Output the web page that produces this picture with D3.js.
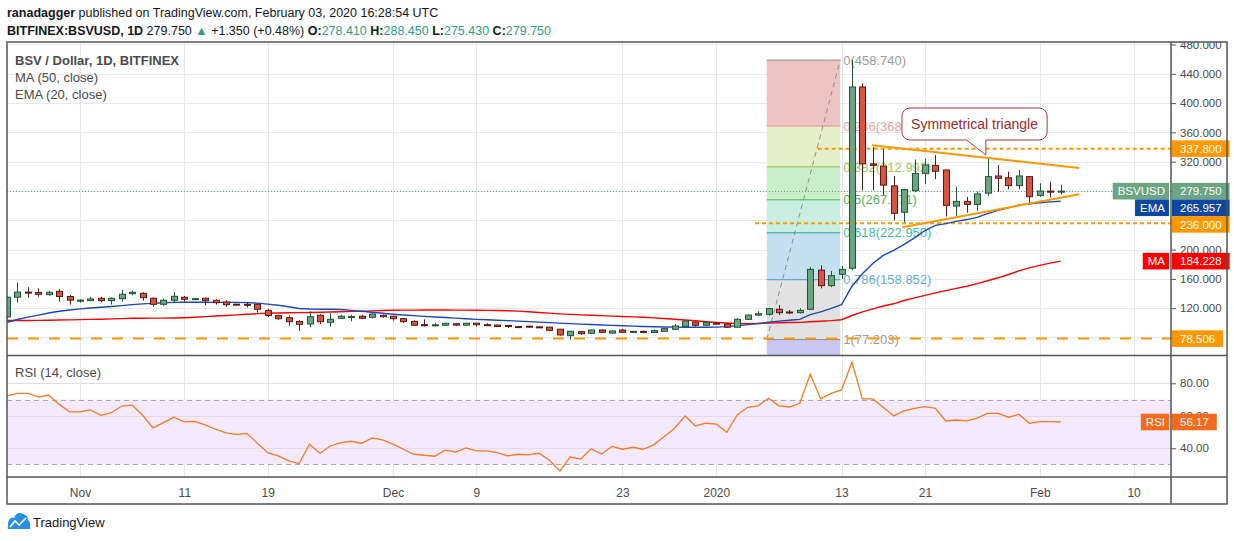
<!DOCTYPE html>
<html>
<head>
<meta charset="utf-8">
<title>BSV / Dollar, 1D, BITFINEX</title>
<script src="https://d3js.org/d3.v7.min.js"></script>
<style>
  body { margin: 0; background: #fff; }
  svg { font-family: "Liberation Sans", Arial, sans-serif; display: block; }
</style>
</head>
<body>
<svg id="chart" width="1234" height="541"></svg>
<script>
// ---- data (daily candles, first one is 2019-10-25) ----
const startDay = "2019-10-25";

const opens = [108, 135, 142, 141.5, 138.5, 143, 136,
  129.5, 130.3, 133.5, 130.3, 133, 139.8, 140.3, 133.5, 125.3, 130.8,
  134.9, 132.2, 133.5, 130.8, 128.5, 125.5, 125.3, 125.3, 117, 109.8,
  107, 102, 98.4, 110.3, 100.7, 106.2, 107.8, 109, 107.6, 110.3,
  109, 105.7, 102, 97.5, 97, 96.7, 98.8, 96.8, 99.5, 97.5,
  97, 96.5, 94.9, 95.5, 94.5, 94, 91.3, 82.5, 88, 85.7,
  90.2, 86, 90.2, 87.5, 88.3, 86.8, 88.5, 91.2, 95.3, 101.1,
  96.7, 99.5, 98.4, 94, 104.8, 110.6, 111.6, 118.5, 114.8, 113.9,
  118.5, 172, 150.8, 166.3, 174.5, 422, 317, 314, 287, 251,
  280.5, 304, 315, 308.7, 259.4, 265.8, 261.7, 277, 300.5, 298,
  287.3, 299.6, 274, 279.9, 278.41];
const highs = [137, 155, 148.5, 147, 144, 146, 138,
  132, 135.6, 135.6, 134.7, 145, 144, 141.7, 135, 132.6, 141.7,
  136.7, 134, 134.5, 132, 131, 126, 128, 126.7, 119, 111.2,
  110, 103.5, 115.7, 112, 113, 111, 111, 111, 114, 111.2,
  109.3, 106, 103.5, 104.8, 99.5, 100, 100, 100, 100, 99.5,
  97.5, 97, 95.5, 96, 95, 94.4, 91.6, 88.8, 89, 91,
  91, 90, 91.5, 88.8, 89.5, 91, 92.8, 98.4, 103, 101.8,
  101, 101.3, 99, 106.6, 111.2, 115.7, 120, 124.4, 117.5, 119.8,
  176, 178.6, 170.8, 177.7, 458.74, 427, 340, 337, 300.5, 283,
  323, 324.6, 329, 309, 286, 272, 279, 324.6, 315.5, 306.4,
  308.7, 300, 290.5, 292.7, 288.45];
const lows = [106, 127.5, 134.5, 135.6, 137, 129, 125,
  127.5, 130, 128, 125, 129, 137.8, 130.3, 122, 123.4, 128.4,
  129, 131.5, 124, 125, 122, 123, 121, 114, 108, 104,
  96, 89, 94, 98.4, 94.8, 105, 102, 105, 106, 107,
  103, 99.8, 96, 94.8, 95, 96, 96, 96.5, 95, 96,
  94.5, 93, 93, 93, 93.5, 88.6, 82.6, 77.203, 83.4, 85,
  86, 85.5, 86, 87, 86, 86, 88, 90.5, 95, 95,
  96, 97.5, 93.3, 93.5, 104, 109.5, 109.5, 110.6, 111.7, 113,
  117.5, 147, 148.6, 160, 172, 281, 281, 274.5, 240, 237,
  278.6, 289.5, 296, 245, 246, 250.4, 253, 273, 279, 282.3,
  282.3, 261, 272, 271.3, 275.43];
const closes = [135, 142, 141, 139, 141.7, 136, 131,
  131, 132.6, 130.3, 133.5, 139, 141.7, 134.3, 125.3, 130.8, 136.2,
  132.2, 133, 130.3, 127.5, 124.8, 125, 125, 118.5, 110, 105.7,
  101.6, 98, 108.4, 101.6, 104.8, 109, 108.6, 106.2, 112, 108.4,
  105.7, 101.6, 96.7, 97, 97.3, 99.4, 96.9, 99.4, 97.5, 97,
  95, 95, 94.2, 94.8, 94.2, 89.8, 83.5, 88.5, 85.3, 90.2,
  87.1, 88.9, 87.1, 88.3, 88, 89.4, 92.1, 95.7, 102.5, 96.7,
  100.3, 99.2, 94, 104.8, 110.6, 112.4, 119.5, 113.9, 114.2, 117,
  173, 150.8, 164.4, 173, 422, 317, 315, 288, 249.5, 282,
  304, 315.5, 307, 260.4, 265.8, 261.7, 276, 299.6, 297.3, 287.3,
  300.5, 272.2, 280, 278.4, 279.75];
const ma50 = [103.1, 103.2, 103.3, 103.4, 103.5, 103.8, 104.1,
  104.4, 104.7, 105, 105.4, 105.8, 106.2, 106.3, 106.4, 106.5, 106.6,
  107, 107.7, 108.5, 109.3, 110, 110.9, 111.8, 112.6, 113.1, 113.4,
  113.7, 114, 114.2, 114.5, 114.8, 115.2, 115.6, 116, 116.4, 116.8,
  117.1, 117.3, 117.4, 117.5, 117.5, 117.5, 117.4, 117.3, 117.1, 117,
  116.8, 116.6, 116, 115.2, 114.2, 113.2, 112.2, 111.5, 110.9, 110.4,
  109.8, 109.2, 108.6, 108.1, 107.6, 106.8, 105.9, 104.9, 103.9, 102.8,
  101.5, 100.5, 99.8, 99.2, 98.9, 99.2, 99.6, 100.2, 100.4, 100.6,
  101.5, 102.2, 103, 104.2, 110, 115, 119, 123, 126, 130.5,
  134, 137.5, 141, 144, 147, 150, 153.5, 157.5, 161.5, 166,
  171, 175, 178.5, 181.5, 184.228];
const ema20 = [100.8, 104.5, 107.8, 110.5, 113.5, 115.8, 117.5,
  119, 120.3, 121.3, 122.3, 123.5, 124.8, 125.9, 126.6, 127.5, 128,
  128.2, 128.2, 128.1, 128, 128, 128, 127.6, 126.9, 125.5, 124,
  122, 119.5, 118.8, 118.6, 118.5, 118.2, 117, 115.8, 114.5, 113,
  111.7, 110.7, 109.8, 108.9, 108, 107.2, 106.4, 105.6, 104.8, 104.2,
  103.6, 103, 102.3, 101.7, 101, 100.3, 99.6, 99, 98.3, 97.7,
  97.1, 96.5, 96, 95.5, 95, 94.6, 94.3, 94.1, 94, 94,
  94, 94.2, 94.8, 96, 97.5, 98.9, 100.8, 102.3, 103.5, 104.8,
  111.2, 115, 119.7, 124.8, 150, 167, 181, 192, 199, 207,
  216, 226, 233, 235.5, 238.5, 241, 244, 249, 253.5, 257,
  261, 262.5, 264, 265.2, 265.957];
const rsi14 = [72.2, 73.8, 73.8, 71.6, 72.6, 67, 62.4,
  62.4, 63.6, 60.3, 61.9, 66, 66.5, 60.3, 52.5, 55.8, 59.1,
  56.2, 56.6, 54.4, 51.7, 49.4, 48.6, 49.2, 43.1, 37.3, 35.3,
  32.2, 30.6, 42.5, 36.9, 41.4, 43.5, 44.3, 43.1, 46.4, 45.1,
  42.5, 39.4, 36.3, 35.7, 35.1, 38.8, 37.7, 40.2, 38.4, 38.4,
  37.3, 35.3, 36.3, 35.9, 36.9, 32.6, 26, 34.7, 33.4, 39.6,
  36.4, 41.1, 39.4, 40.6, 39.4, 42.1, 47.2, 52.3, 59.9, 53.7,
  55.4, 54.8, 49.8, 60.5, 65.2, 66.1, 70.8, 66.1, 65.4, 67.7,
  85.5, 70.4, 73.8, 75.9, 92.9, 70.4, 70.4, 65.2, 59.9, 63,
  64.6, 65.6, 64.6, 56.8, 57.4, 56.8, 58.5, 61.5, 61.5, 59.1,
  60.9, 55.4, 56.4, 56.4, 56.17];

const priceTicks = [80, 120, 160, 200, 240, 280, 320, 360, 400, 440, 480];
const rsiTicks = [40, 60, 80];
const rsiBand = [30, 70];
const timeTicks = ["2019-11-01", "2019-11-11", "2019-11-19", "2019-12-01", "2019-12-09",
  "2019-12-23", "2020-01-01", "2020-01-13", "2020-01-21", "2020-02-01", "2020-02-10"];

// fibonacci retracement drawn on the Jan rally
const fibRatios = [0, 0.236, 0.382, 0.5, 0.618, 0.786, 1, 1.618];
const fibHigh = 458.74, fibLow = 77.203;
const fibFrom = "2020-01-05T20:00", fibTo = "2020-01-12T21:00";

// horizontal support / resistance lines
const levelPrices = [337.8, 236, 78.506];
const levelStarts = ["2020-01-10T17:00", "2020-01-04T17:00", "2019-10-25T00:00"];

// symmetrical triangle + callout
const triUpper = [["2020-01-15T22:00", 342.4], ["2020-02-04T19:00", 311.4]];
const triLower = [["2020-01-18T20:00", 230.4], ["2020-02-04T19:00", 275.5]];
const calloutText = "Symmetrical triangle";
const calloutBox = [["2020-01-18T19:00", 393.3], ["2020-02-01T17:00", 349.6]];
const calloutTip = [["2020-01-25T00:00", "2020-01-26T20:00"], 329.2];

// ---- layout ----
const W = 1234, H = 541;
const L = 7, R = 1171, FR = 1227;
const mainTop = 42, mainBottom = 355, rsiTop = 356, rsiBottom = 477, axisBottom = 504;

const tParse = s => (s.length > 10 ? d3.utcParse("%Y-%m-%dT%H:%M") : d3.utcParse("%Y-%m-%d"))(s);
const day0 = tParse(startDay);
const dates = closes.map((_, i) => d3.utcDay.offset(day0, i));
const last = closes.length - 1;

const x = d3.scaleUtc().domain([day0, tParse("2020-02-13T14:00")]).range([L, R]);
const y = d3.scaleLinear().domain([56.1, 483.4]).range([mainBottom, mainTop]);
const yR = d3.scaleLinear().domain([22.3, 96.8]).range([rsiBottom, rsiTop]);

const svg = d3.select("#chart");
const defs = svg.append("defs");
function clip(id, x0, y0, w, h) {
  defs.append("clipPath").attr("id", id).append("rect")
    .attr("x", x0).attr("y", y0).attr("width", w).attr("height", h);
}
clip("clipMain", L, mainTop, R - L, mainBottom - mainTop);
clip("clipRsi", L, rsiTop, R - L, rsiBottom - rsiTop);
clip("clipAxis", R, mainTop, W - R, mainBottom - mainTop);

svg.append("rect").attr("width", W).attr("height", H).attr("fill", "#fff");

// ---- header ----
const head = svg.append("g").attr("font-size", 12.5).attr("fill", "#131722");
const l1 = head.append("text").attr("x", 7).attr("y", 17);
l1.append("tspan").attr("font-weight", "bold").text("ranadagger");
l1.append("tspan").text(" published on TradingView.com, February 03, 2020 16:28:54 UTC");
const up = "#2f9e85";
const chg = closes[last] - closes[last - 1];
const l2 = head.append("text").attr("x", 7).attr("y", 35);
l2.append("tspan").attr("font-weight", "bold").text("BITFINEX:BSVUSD, 1D");
l2.append("tspan").text("  " + closes[last].toFixed(3) + " ");
l2.append("tspan").attr("fill", up).text("\u25B2");
l2.append("tspan").text(" +" + chg.toFixed(3) + " (+" + (chg / closes[last - 1] * 100).toFixed(2) + "%) ");
[["O:", opens[last]], ["H:", highs[last]], ["L:", lows[last]], ["C:", closes[last]]].forEach(([k, v]) => {
  l2.append("tspan").attr("font-weight", "bold").text(" " + k);
  l2.append("tspan").attr("fill", up).text(v.toFixed(3));
});

// ---- grid ----
const grid = svg.append("g").attr("stroke", "#e8e8e8").attr("stroke-width", 1);
grid.selectAll(".gv").data(timeTicks.map(tParse)).join("line")
  .attr("x1", d => Math.round(x(d)) + 0.5).attr("x2", d => Math.round(x(d)) + 0.5)
  .attr("y1", mainTop).attr("y2", rsiBottom);
grid.append("g").attr("clip-path", "url(#clipMain)")
  .selectAll("line").data(priceTicks).join("line")
  .attr("x1", L).attr("x2", R)
  .attr("y1", d => Math.round(y(d)) + 0.5).attr("y2", d => Math.round(y(d)) + 0.5);

// ---- main plot ----
const plot = svg.append("g").attr("clip-path", "url(#clipMain)");

// fib bands
const fibFill = ["#edc3c3", "#e5efca", "#caefc8", "#c7eee1", "#c4e0f1", "#e2e2e2", "#c7c7f2"];
const fibLine = ["#8c8c8c", "#e58f8f", "#8bc34a", "#4caf50", "#26a69a", "#4a97d4", "#8c8c8c", "#8c8c8c"];
const fibLabel = ["#9a9a9a", "#e8a6a6", "#a2c860", "#52b556", "#3fbf9d", "#66abe0", "#a0a0a0", "#a0a0a0"];
const fibPrice = r => fibHigh - r * (fibHigh - fibLow);
const fx0 = x(tParse(fibFrom)), fx1 = x(tParse(fibTo));
plot.selectAll(".fibband").data(d3.pairs(fibRatios)).join("rect")
  .attr("x", fx0).attr("width", fx1 - fx0)
  .attr("y", d => y(fibPrice(d[0])))
  .attr("height", d => y(fibPrice(d[1])) - y(fibPrice(d[0])))
  .attr("fill", (d, i) => fibFill[i]);
plot.selectAll(".fibline").data(fibRatios).join("line")
  .attr("x1", fx0).attr("x2", fx1)
  .attr("y1", d => y(fibPrice(d))).attr("y2", d => y(fibPrice(d)))
  .attr("stroke", (d, i) => fibLine[i]).attr("stroke-width", 1);
plot.selectAll(".fiblabel").data(fibRatios).join("text")
  .attr("x", fx1 + 3).attr("y", d => y(fibPrice(d))).attr("dy", "0.36em")
  .attr("font-size", 13).attr("fill", (d, i) => fibLabel[i])
  .text(d => d + "(" + d3.format(".3f")(fibPrice(d)) + ")");
plot.append("line")
  .attr("x1", fx0).attr("y1", y(fibLow)).attr("x2", fx1).attr("y2", y(fibHigh))
  .attr("stroke", "#8c8c8c").attr("stroke-width", 1).attr("stroke-dasharray", "5,4");

// horizontal levels
const levelDash = ["4,3", "4,3", "11,10"];
plot.selectAll(".lvl").data(levelPrices).join("line")
  .attr("x1", (d, i) => x(tParse(levelStarts[i]))).attr("x2", R)
  .attr("y1", d => y(d)).attr("y2", d => y(d))
  .attr("stroke", "#ff9800").attr("stroke-width", 2)
  .attr("stroke-dasharray", (d, i) => levelDash[i]);

// current price
plot.append("line").attr("x1", L).attr("x2", R)
  .attr("y1", Math.round(y(closes[last])) + 0.5).attr("y2", Math.round(y(closes[last])) + 0.5)
  .attr("stroke", "#6ba583").attr("stroke-width", 1).attr("stroke-dasharray", "1,2");

// moving averages
const lineGen = arr => d3.line().x((d, i) => x(dates[i])).y(d => y(d))(arr);
plot.append("path").attr("d", lineGen(ma50)).attr("fill", "none")
  .attr("stroke", "#ff0000").attr("stroke-width", 1.4);
plot.append("path").attr("d", lineGen(ema20)).attr("fill", "none")
  .attr("stroke", "#1848b8").attr("stroke-width", 1.4);

// candles
const candles = plot.append("g").selectAll("g").data(dates).join("g");
const isUp = i => closes[i] >= opens[i];
const bodyW = 6;
candles.append("line")
  .attr("x1", d => Math.round(x(d)) + 0.5).attr("x2", d => Math.round(x(d)) + 0.5)
  .attr("y1", (d, i) => y(highs[i])).attr("y2", (d, i) => y(lows[i]))
  .attr("stroke", (d, i) => isUp(i) ? "#225437" : "#5b1a13").attr("stroke-width", 1);
candles.append("rect")
  .attr("x", d => Math.round(x(d)) + 0.5 - bodyW / 2)
  .attr("width", bodyW)
  .attr("y", (d, i) => y(Math.max(opens[i], closes[i])))
  .attr("height", (d, i) => Math.max(1, Math.abs(y(opens[i]) - y(closes[i]))))
  .attr("fill", (d, i) => isUp(i) ? "#6ba583" : "#d75442")
  .attr("stroke", (d, i) => isUp(i) ? "#225437" : "#5b1a13").attr("stroke-width", 1);

// triangle
[triUpper, triLower].forEach(seg => {
  plot.append("line")
    .attr("x1", x(tParse(seg[0][0]))).attr("y1", y(seg[0][1]))
    .attr("x2", x(tParse(seg[1][0]))).attr("y2", y(seg[1][1]))
    .attr("stroke", "#ff9800").attr("stroke-width", 2);
});

// callout
{
  const bx0 = x(tParse(calloutBox[0][0])), by0 = y(calloutBox[0][1]);
  const bx1 = x(tParse(calloutBox[1][0])), by1 = y(calloutBox[1][1]);
  const pa = x(tParse(calloutTip[0][0])), pb = x(tParse(calloutTip[0][1])), py = y(calloutTip[1]);
  const r = 8;
  const p = d3.path();
  p.moveTo(bx0 + r, by0);
  p.lineTo(bx1 - r, by0); p.arcTo(bx1, by0, bx1, by0 + r, r);
  p.lineTo(bx1, by1 - r); p.arcTo(bx1, by1, bx1 - r, by1, r);
  p.lineTo(pb, by1); p.lineTo(pb, py); p.lineTo(pa, by1);
  p.lineTo(bx0 + r, by1); p.arcTo(bx0, by1, bx0, by1 - r, r);
  p.lineTo(bx0, by0 + r); p.arcTo(bx0, by0, bx0 + r, by0, r);
  p.closePath();
  plot.append("path").attr("d", p.toString()).attr("fill", "#fff")
    .attr("stroke", "#a83a3a").attr("stroke-width", 1);
  plot.append("text").attr("x", (bx0 + bx1) / 2).attr("y", (by0 + by1) / 2).attr("dy", "0.36em")
    .attr("text-anchor", "middle").attr("font-size", 14).attr("fill", "#a02828").text(calloutText);
}

// ---- RSI panel ----
const rsiG = svg.append("g").attr("clip-path", "url(#clipRsi)");
rsiG.append("rect").attr("x", L).attr("width", R - L)
  .attr("y", yR(rsiBand[1])).attr("height", yR(rsiBand[0]) - yR(rsiBand[1]))
  .attr("fill", "#f4e9fd");
rsiG.selectAll(".rg").data(rsiTicks).join("line")
  .attr("x1", L).attr("x2", R)
  .attr("y1", d => Math.round(yR(d)) + 0.5).attr("y2", d => Math.round(yR(d)) + 0.5)
  .attr("stroke", "#e2dbe8");
rsiG.selectAll(".rb").data(rsiBand).join("line")
  .attr("x1", L).attr("x2", R)
  .attr("y1", d => Math.round(yR(d)) + 0.5).attr("y2", d => Math.round(yR(d)) + 0.5)
  .attr("stroke", "#a7a7a7").attr("stroke-dasharray", "5,4");
rsiG.append("path")
  .attr("d", d3.line().x((d, i) => x(dates[i])).y(d => yR(d))(rsi14))
  .attr("fill", "none").attr("stroke", "#f57a22").attr("stroke-width", 1.3);

// ---- legends ----
const leg = svg.append("g").attr("font-size", 13).attr("fill", "#4a4a4a");
leg.append("text").attr("x", 15).attr("y", 65).attr("font-weight", "bold").text("BSV / Dollar, 1D, BITFINEX");
leg.append("text").attr("x", 15).attr("y", 82).text("MA (50, close)");
leg.append("text").attr("x", 15).attr("y", 99).text("EMA (20, close)");
leg.append("text").attr("x", 15).attr("y", 377).text("RSI (14, close)");

// ---- axes ----
function styleAxis(g) {
  g.select(".domain").remove();
  g.selectAll(".tick line").attr("stroke", "#555");
  g.selectAll(".tick text").attr("fill", "#4a4a4a").attr("font-size", 11.5)
    .attr("font-family", "Liberation Sans, Arial, sans-serif");
}
svg.append("g").attr("clip-path", "url(#clipAxis)")
  .append("g").attr("transform", `translate(${R},0)`)
  .call(d3.axisRight(y).tickValues(priceTicks).tickSize(5).tickPadding(4).tickFormat(d3.format(".3f")))
  .call(styleAxis);
svg.append("g").attr("transform", `translate(${R},0)`)
  .call(d3.axisRight(yR).tickValues(rsiTicks).tickSize(5).tickPadding(4).tickFormat(d3.format(".2f")))
  .call(styleAxis);
const fmtTick = d => d.getUTCDate() === 1
  ? (d.getUTCMonth() === 0 ? d3.utcFormat("%Y")(d) : d3.utcFormat("%b")(d))
  : d3.utcFormat("%-d")(d);
svg.append("g").attr("transform", `translate(0,${rsiBottom})`)
  .call(d3.axisBottom(x).tickValues(timeTicks.map(tParse)).tickSize(0).tickPadding(11).tickFormat(fmtTick))
  .call(styleAxis)
  .call(g => g.selectAll(".tick text").attr("font-size", 12));

// ---- price tags on the axes ----
function drawTags(tags, scale) {
  const h = 16.6;
  tags.forEach(t => t.yc = scale(t.value));
  tags.sort((a, b) => a.yc - b.yc);
  for (let i = 1; i < tags.length; i++) {
    if (tags[i].yc < tags[i - 1].yc + h) tags[i].yc = tags[i - 1].yc + h;
  }
  const g = svg.append("g").attr("font-size", 11.5);
  tags.forEach(t => {
    const vt = g.append("text").attr("x", R + 9).attr("y", t.yc).attr("dy", "0.36em")
      .attr("fill", "#fff").text(t.digits === 2 ? t.value.toFixed(2) : t.value.toFixed(3));
    const vw = vt.node().getComputedTextLength();
    g.insert("rect", "text").attr("x", R + 1).attr("y", t.yc - h / 2)
      .attr("width", vw + 16).attr("height", h).attr("fill", t.fill);
    if (t.name) {
      const nt = g.append("text").attr("x", R - 6).attr("y", t.yc).attr("dy", "0.36em")
        .attr("text-anchor", "end").attr("fill", "#fff").text(t.name);
      const nw = nt.node().getComputedTextLength();
      g.insert("rect", "text").attr("x", R - 2 - nw - 9).attr("y", t.yc - h / 2)
        .attr("width", nw + 9).attr("height", h).attr("fill", t.fill);
    }
  });
}
drawTags([
  { name: "BSVUSD", value: closes[last], fill: "#6ba583" },
  { name: "EMA", value: ema20[last], fill: "#0d47a1" },
  { name: "MA", value: ma50[last], fill: "#ff0000" },
  { name: null, value: levelPrices[0], fill: "#ff9800" },
  { name: null, value: levelPrices[1], fill: "#ff9800" },
  { name: null, value: levelPrices[2], fill: "#ff9800" }
], y);
drawTags([{ name: "RSI", value: rsi14[last], fill: "#f26b1d", digits: 2 }], yR);

// ---- frame ----
const frame = svg.append("g").attr("stroke", "#555").attr("stroke-width", 1.5).attr("fill", "none");
frame.append("rect").attr("x", L).attr("y", mainTop).attr("width", FR - L).attr("height", axisBottom - mainTop);
frame.append("line").attr("x1", L).attr("x2", FR).attr("y1", mainBottom + 0.5).attr("y2", mainBottom + 0.5);
frame.append("line").attr("x1", L).attr("x2", FR).attr("y1", rsiBottom).attr("y2", rsiBottom);
frame.append("line").attr("x1", R).attr("x2", R).attr("y1", mainTop).attr("y2", axisBottom);

// ---- TradingView mark ----
const logo = svg.append("g");
logo.append("path")
  .attr("d", "M8,529 L8,523 Q9,517 14,518 Q17,511 23,514 Q28,515 28,520 Q31,522 30,529 Z")
  .attr("fill", "#2a8fe0");
logo.append("polyline").attr("points", "10,527 15,521 19,525 26,518")
  .attr("fill", "none").attr("stroke", "#fff").attr("stroke-width", 1.6);
logo.append("text").attr("x", 33).attr("y", 527).attr("font-size", 13).attr("fill", "#131722").text("TradingView");
</script>
</body>
</html>
